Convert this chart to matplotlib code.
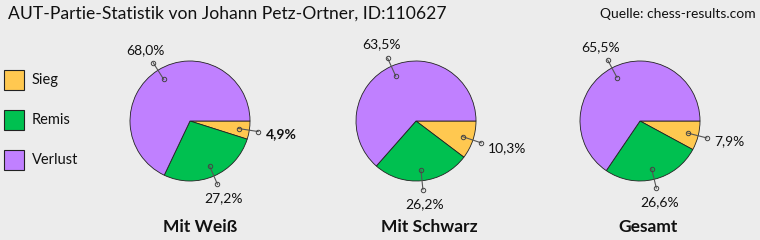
import matplotlib
matplotlib.use("Agg")
import matplotlib.pyplot as plt
from matplotlib.patches import Rectangle
import numpy as np

# ---- data ----
categories = ["Sieg", "Remis", "Verlust"]
colors = ["#FFC850", "#00C050", "#C080FF"]
pie_titles = ["Mit Weiß", "Mit Schwarz", "Gesamt"]
weiss = [4.9, 27.2, 68.0]
schwarz = [10.3, 26.2, 63.5]
gesamt = [7.9, 26.6, 65.5]
title = "AUT-Partie-Statistik von Johann Petz-Ortner, ID:110627"
source = "Quelle: chess-results.com"

series = [weiss, schwarz, gesamt]

plt.rcParams['font.family'] = ['Lato', 'DejaVu Sans']
W, H = 760, 240
fig = plt.figure(figsize=(W / 100, H / 100), dpi=100)
fig.patch.set_facecolor("#ECECEC")

centers = [(190, 121), (416, 121), (640, 121)]
R = 60
title_dx = [10, 13, 8]
label_dx = [[8, 0, 0], [11, 0, 0], [8, 0, 0]]
bold_small = [True, False, False]
half = 110

def fmt(v):
    return f"{v:.1f}".replace(".", ",") + "%"

for i, (vals, (cx, cy)) in enumerate(zip(series, centers)):
    ax = fig.add_axes([(cx - half) / W, (H - cy - half) / H, 2 * half / W, 2 * half / H])
    ax.set_axis_off()
    ax.patch.set_alpha(0)
    wedges, _ = ax.pie(vals, colors=colors, startangle=0, counterclock=False,
                       radius=1.0, center=(0, 0),
                       wedgeprops=dict(edgecolor="#222222", linewidth=0.6))
    ax.set_xlim(-half / R, half / R)
    ax.set_ylim(-half / R, half / R)
    ax.set_aspect("equal")
    for j, w in enumerate(wedges):
        mid = np.deg2rad((w.theta1 + w.theta2) / 2)
        c, s = np.cos(mid), np.sin(mid)
        ax.plot([0.82 * c, 1.15 * c], [0.82 * s, 1.15 * s], color="#555555",
                linewidth=0.8, marker="o", markersize=3.2, markerfacecolor="none",
                markeredgecolor="#444444", markeredgewidth=0.7)
        lx = 1.4 * c + label_dx[i][j] / R
        ly = 1.4 * s
        weight = "bold" if (j == 0 and bold_small[i]) else "normal"
        ax.text(lx, ly, fmt(vals[j]), ha="center", va="center", fontsize=10,
                color="#111111", fontweight=weight)
    ax.text(title_dx[i] / R, -(227 - cy) / R, pie_titles[i], ha="center", va="center",
            fontsize=12.5, fontweight="bold", color="#111111")

fig.text(8 / W, 1 - 14 / H, title, ha="left", va="center", fontsize=12.6, color="#111111")
fig.text(756 / W, 1 - 14 / H, source, ha="right", va="center", fontsize=10, color="#111111")

# legend drawn in figure pixel positions
for k, (lab, col) in enumerate(zip(categories, colors)):
    yc = 80 + 40 * k
    fig.add_artist(Rectangle((4 / W, 1 - (yc + 10) / H), 20 / W, 20 / H,
                             transform=fig.transFigure, facecolor=col,
                             edgecolor="#222222", linewidth=0.8))
    fig.text(32 / W, 1 - yc / H, lab, ha="left", va="center", fontsize=10.5,
             color="#111111")

fig.savefig("out.png", dpi=100, facecolor=fig.get_facecolor())
